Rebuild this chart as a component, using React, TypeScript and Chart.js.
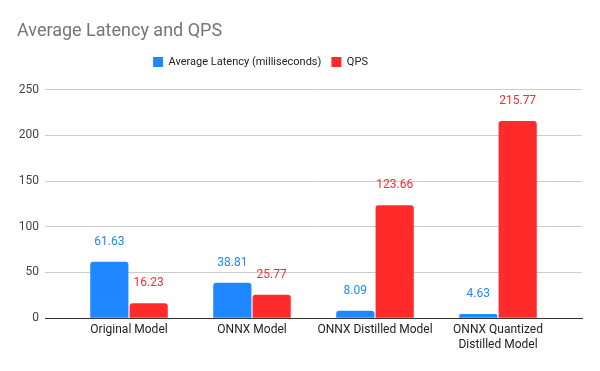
import React, { useEffect, useRef } from "react";
import { Chart, registerables } from "chart.js";
Chart.register(...registerables);

const categories: (string | string[])[] = [
  "Original Model",
  "ONNX Model",
  "ONNX Distilled Model",
  ["ONNX Quantized", "Distilled Model"],
];
const latency = [61.63, 38.81, 8.09, 4.63];
const qps = [16.23, 25.77, 123.66, 215.77];
const yTicks = [0, 50, 100, 150, 200, 250];

const BLUE = "#1f87ff";
const RED = "#ff2b2b";

const valueLabels = {
  id: "valueLabels",
  afterDatasetsDraw(chart: any) {
    const ctx = chart.ctx;
    ctx.save();
    ctx.font = "12px Roboto";
    ctx.textAlign = "center";
    ctx.textBaseline = "bottom";
    chart.data.datasets.forEach((ds: any, i: number) => {
      const meta = chart.getDatasetMeta(i);
      ctx.fillStyle = ds.backgroundColor;
      meta.data.forEach((el: any, j: number) => {
        ctx.fillText(ds.data[j].toFixed(2), el.x, el.y - 14);
      });
    });
    ctx.restore();
  },
};

const legendMargin = {
  id: "legendMargin",
  beforeInit(chart: any) {
    const orig = chart.legend.fit;
    chart.legend.fit = function () {
      orig.bind(chart.legend)();
      this.height += 12;
    };
  },
  afterLayout(chart: any) {
    chart.legend.left -= 39;
    chart.legend.right -= 39;
  },
};

export default function App() {
  const ref = useRef<HTMLCanvasElement>(null);
  useEffect(() => {
    document.body.style.margin = "0";
    const chart = new Chart(ref.current!, {
      type: "bar",
      data: {
        labels: categories,
        datasets: [
          { label: "Average Latency (milliseconds)", data: latency, backgroundColor: BLUE, borderRadius: { topLeft: 3, topRight: 3 }, borderSkipped: "bottom" },
          { label: "QPS", data: qps, backgroundColor: RED, borderRadius: { topLeft: 3, topRight: 3 }, borderSkipped: "bottom" },
        ],
      },
      options: {
        animation: false,
        responsive: false,
        maintainAspectRatio: false,
        layout: { padding: { left: 17, right: 18, top: 11, bottom: 14 } },
        datasets: { bar: { categoryPercentage: 0.64, barPercentage: 0.97 } },
        plugins: {
          title: {
            display: true,
            text: "Average Latency and QPS",
            align: "start",
            color: "#757575",
            font: { family: "Roboto", size: 18, weight: "normal" },
            padding: { top: 10, bottom: 4 },
          },
          legend: {
            position: "top",
            labels: {
              boxWidth: 10,
              boxHeight: 10,
              color: "#222",
              font: { family: "Roboto", size: 11 },
              padding: 10,
            },
          },
          tooltip: { enabled: false },
        },
        scales: {
          x: {
            grid: { display: false, drawTicks: false },
            border: { color: "#333", width: 1 },
            ticks: { color: "#222", font: { family: "Roboto", size: 12 }, maxRotation: 0, autoSkip: false, padding: 5 },
            afterBuildTicks: (axis: any) => {
              const n = categories.length;
              const extra = 0.183;
              axis._startValue = -0.5 - extra;
              axis._valueRange = n + 2 * extra;
            },
          },
          y: {
            min: 0,
            max: 250,
            afterBuildTicks: (axis: any) => { axis.ticks = yTicks.map((v) => ({ value: v })); },
            afterFit: (axis: any) => { axis.width = 28; },
            grid: { color: "#cccccc", drawTicks: false },
            border: { display: false },
            ticks: { color: "#444", font: { family: "Roboto", size: 12 }, padding: 6 },
          },
        },
      },
      plugins: [valueLabels, legendMargin],
    } as any);
    return () => chart.destroy();
  }, []);
  return <canvas ref={ref} width={600} height={371} style={{ display: "block" }} />;
}
